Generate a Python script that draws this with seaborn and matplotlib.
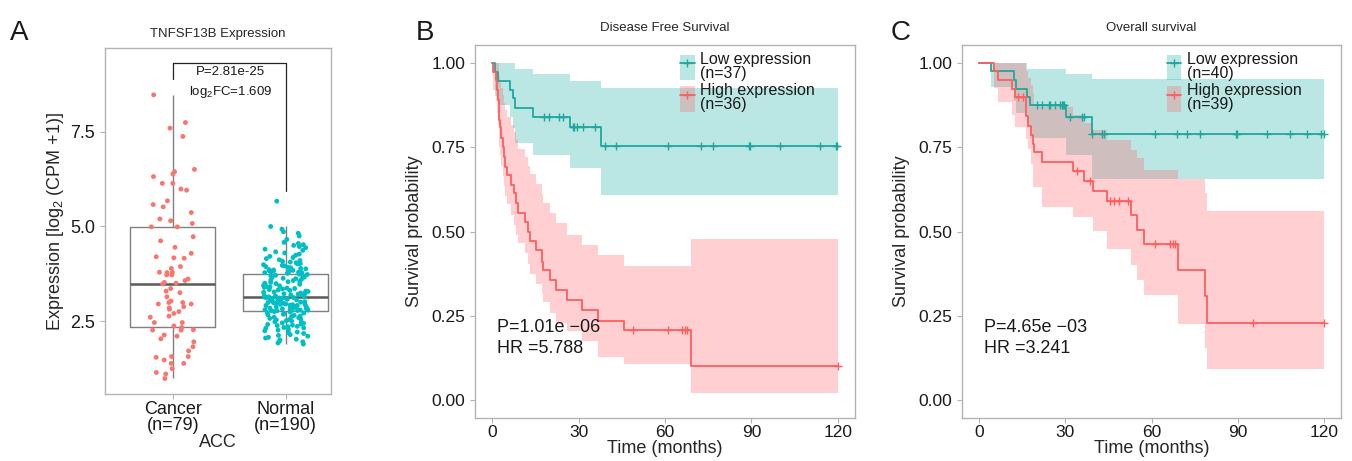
import numpy as np
import pandas as pd
import matplotlib
matplotlib.use("Agg")
import matplotlib.pyplot as plt
import seaborn as sns
from matplotlib.patches import Patch
from matplotlib.lines import Line2D

# Panel A: expression values
groups = ["Cancer", "Normal"]
group_labels = ["Cancer\n(n=79)", "Normal\n(n=190)"]
cancer_expr = [
    8.48, 7.75, 7.60, 7.38, 6.51, 6.45, 6.39, 6.32, 6.14, 6.14,
    5.99, 5.96, 5.68, 5.58, 5.52, 5.37, 5.20, 5.15, 5.08, 4.99,
    4.99, 4.73, 4.62, 4.45, 4.29, 4.20, 4.17, 4.16, 3.94, 3.89,
    3.79, 3.79, 3.78, 3.72, 3.72, 3.61, 3.57, 3.52, 3.50, 3.48,
    3.36, 3.29, 3.25, 3.14, 3.03, 2.99, 2.99, 2.95, 2.95, 2.88,
    2.85, 2.81, 2.75, 2.70, 2.63, 2.60, 2.46, 2.46, 2.37, 2.33,
    2.27, 2.26, 2.26, 2.13, 2.10, 2.03, 1.95, 1.82, 1.71, 1.56,
    1.56, 1.54, 1.47, 1.38, 1.38, 1.24, 1.14, 1.10, 0.98,
]
normal_expr = [
    5.67,
    5.00, 4.93, 4.86, 4.82, 4.75, 4.66, 4.58, 4.55, 4.52, 4.50,
    4.47, 4.44, 4.40, 4.37, 4.33, 4.30, 4.27, 4.24, 4.21, 4.18,
    4.15, 4.12, 4.10, 4.08, 4.06, 4.04, 4.02, 4.01,
    3.99, 3.97, 3.96, 3.94, 3.92, 3.91, 3.89, 3.88, 3.86, 3.85,
    3.84, 3.83, 3.82, 3.81, 3.80, 3.79, 3.78, 3.78,
    3.76, 3.74, 3.73, 3.71, 3.70, 3.68, 3.66, 3.65, 3.63, 3.62,
    3.60, 3.58, 3.57, 3.55, 3.54, 3.52, 3.50, 3.49, 3.47, 3.46,
    3.44, 3.43, 3.41, 3.40, 3.39, 3.37, 3.36, 3.35, 3.33, 3.32,
    3.31, 3.29, 3.28, 3.27, 3.26, 3.24, 3.23, 3.22, 3.21, 3.20,
    3.19, 3.18, 3.17, 3.16, 3.15, 3.14, 3.14,
    3.13, 3.12, 3.12, 3.11, 3.10, 3.09, 3.08, 3.08, 3.07, 3.06,
    3.05, 3.04, 3.04, 3.03, 3.02, 3.01, 3.00, 2.99, 2.99, 2.98,
    2.97, 2.96, 2.95, 2.95, 2.94, 2.93, 2.92, 2.91, 2.91, 2.90,
    2.89, 2.88, 2.87, 2.87, 2.86, 2.85, 2.84, 2.83, 2.83, 2.82,
    2.81, 2.80, 2.79, 2.79, 2.78, 2.78, 2.77, 2.77,
    2.75, 2.74, 2.72, 2.71, 2.69, 2.68, 2.66, 2.65, 2.63, 2.62,
    2.60, 2.59, 2.57, 2.56, 2.54, 2.53, 2.51, 2.50, 2.48, 2.47,
    2.45, 2.44, 2.42, 2.41, 2.39, 2.38, 2.36, 2.35, 2.33, 2.32, 2.31,
    2.28, 2.26, 2.24, 2.21, 2.19, 2.17, 2.14, 2.12, 2.10, 2.07,
    2.05, 2.02, 2.00, 1.97, 1.95, 1.92, 1.89,
]

# Panel B: disease free survival (step curves, 95% CI, censor times)
dfs_low_time = [0, 1.0, 2.0, 6.0, 7.3, 7.8, 14.3, 27.1, 37.6, 120.0]
dfs_low_surv = [1.0, 0.973, 0.946, 0.920, 0.894, 0.865, 0.838, 0.808, 0.754, 0.754]
dfs_low_upper = [1.0, 1.0, 1.0, 1.0, 1.0, 0.980, 0.965, 0.945, 0.926, 0.926]
dfs_low_lower = [1.0, 0.90, 0.874, 0.84, 0.805, 0.761, 0.726, 0.687, 0.608, 0.608]
dfs_low_cens = [17.8, 19.8, 23.3, 24.4, 27.9, 28.5, 29.6, 31.4, 35.7, 39.1, 43.1,
                60.9, 72.4, 76.8, 89.1, 89.6, 99.9, 113.8, 119.3, 119.9]

dfs_high_time = [0, 0.3, 1.2, 1.5, 1.9, 2.2, 2.4, 2.8, 3.0, 3.6, 4.2, 4.5, 5.0, 6.5, 7.4,
                 8.2, 9.1, 11.5, 12.3, 13.2, 15.2, 17.3, 17.6, 20.1, 22.0, 26.0, 31.3,
                 36.7, 45.7, 68.9, 120.0]
dfs_high_surv = [1.0, 0.972, 0.948, 0.918, 0.889, 0.859, 0.830, 0.808, 0.778, 0.751, 0.721,
                 0.692, 0.667, 0.638, 0.613, 0.584, 0.556, 0.529, 0.500, 0.473, 0.444,
                 0.411, 0.385, 0.355, 0.326, 0.296, 0.267, 0.236, 0.207, 0.103, 0.103]
dfs_high_upper = [1.0, 1.0, 1.0, 1.0, 1.0, 0.985, 0.96, 0.945, 0.925, 0.905, 0.88, 0.86,
                  0.84, 0.815, 0.795, 0.77, 0.745, 0.72, 0.695, 0.67, 0.64, 0.61, 0.585,
                  0.555, 0.525, 0.49, 0.461, 0.431, 0.399, 0.477, 0.477]
dfs_high_lower = [1.0, 0.92, 0.885, 0.85, 0.815, 0.78, 0.75, 0.725, 0.695, 0.665, 0.635,
                  0.605, 0.58, 0.55, 0.52, 0.49, 0.465, 0.435, 0.405, 0.375, 0.345, 0.315,
                  0.29, 0.26, 0.23, 0.205, 0.175, 0.129, 0.108, 0.023, 0.023]
dfs_high_cens = [48.9, 61.2, 65.8, 67.0, 67.8, 120.0]

# Panel C: overall survival
os_low_time = [0, 4.2, 12.0, 12.8, 16.6, 17.8, 30.2, 39.3, 120.0]
os_low_surv = [1.0, 0.975, 0.949, 0.923, 0.897, 0.874, 0.839, 0.788, 0.788]
os_low_upper = [1.0, 1.0, 1.0, 1.0, 0.982, 0.982, 0.967, 0.950, 0.950]
os_low_lower = [1.0, 0.928, 0.885, 0.85, 0.81, 0.776, 0.726, 0.655, 0.655]
os_low_cens = [20.1, 21.9, 24.2, 24.8, 26.5, 28.3, 28.8, 29.2, 29.6, 31.7, 35.8, 36.4,
               39.3, 42.8, 43.6, 61.1, 68.9, 72.4, 76.8, 89.3, 89.9, 100.1, 108.2,
               114.3, 119.2, 120.1]

os_high_time = [0, 5.0, 6.7, 11.4, 12.3, 16.2, 16.9, 18.0, 18.6, 19.0, 21.9, 32.7, 36.4,
                39.5, 44.5, 52.9, 55.0, 57.3, 69.3, 78.5, 79.2, 120.0]
os_high_surv = [1.0, 0.974, 0.949, 0.923, 0.897, 0.841, 0.812, 0.785, 0.760, 0.734, 0.707,
                0.679, 0.650, 0.620, 0.589, 0.549, 0.505, 0.463, 0.387, 0.308, 0.229, 0.229]
os_high_upper = [1.0, 1.0, 1.0, 1.0, 1.0, 0.975, 0.955, 0.935, 0.91, 0.869, 0.869, 0.844,
                 0.82, 0.80, 0.771, 0.741, 0.717, 0.682, 0.655, 0.613, 0.562, 0.562]
os_high_lower = [1.0, 0.925, 0.884, 0.846, 0.810, 0.775, 0.745, 0.70, 0.633, 0.633, 0.573,
                 0.542, 0.542, 0.50, 0.449, 0.401, 0.357, 0.313, 0.226, 0.154, 0.094, 0.094]
os_high_cens = [13.5, 15.3, 34.0, 38.5, 45.6, 46.8, 48.7, 51.9, 61.1, 66.4, 67.4, 68.2,
                95.2, 120.0]

# colours
red_pt, teal_pt = "#F8766D", "#00BFC4"
red_line, teal_line = "#FF5E5E", "#1FA79E"
red_band, teal_band = "#FF6269", "#1CB2A5"
spine_c = "#B3B3B3"
text_c = "#1A1A1A"

sns.set_style("ticks")
plt.rcParams["font.family"] = ["Liberation Sans", "DejaVu Sans"]
plt.rcParams["mathtext.fontset"] = "custom"
plt.rcParams["mathtext.rm"] = "Liberation Sans"
plt.rcParams["mathtext.default"] = "regular"
np.random.seed(7)

fig = plt.figure(figsize=(13.52, 4.61), dpi=100)


def style_axes(ax):
    for sp in ax.spines.values():
        sp.set_visible(True)
        sp.set_color(spine_c)
        sp.set_linewidth(1.0)
    ax.tick_params(colors=spine_c, length=3.5, width=0.8, labelcolor=text_c)
    ax.tick_params(axis="x", pad=1.5)


# ---------------- Panel A
axA = fig.add_axes([105 / 1352, 1 - 394 / 461, 226 / 1352, 346 / 461])
df_expr = pd.DataFrame({
    "group": ["Cancer"] * len(cancer_expr) + ["Normal"] * len(normal_expr),
    "value": cancer_expr + normal_expr,
})
sns.boxplot(data=df_expr, x="group", y="value", order=groups, width=0.75, fill=False,
            color="#808080", linewidth=1.0, showfliers=False, showcaps=False,
            medianprops={"linewidth": 1.8, "color": "#595959"}, ax=axA)
sns.stripplot(data=df_expr, x="group", y="value", hue="group", order=groups,
              palette={"Cancer": red_pt, "Normal": teal_pt}, jitter=0.2, size=3.5,
              linewidth=0, legend=False, ax=axA)
axA.set_xlim(-0.6, 1.4)
axA.set_ylim(0.57, 9.72)
axA.set_yticks([2.5, 5.0, 7.5])
axA.set_yticklabels(["2.5", "5.0", "7.5"], fontsize=13)
axA.set_xticks([0, 1])
axA.set_xticklabels(group_labels, fontsize=13, linespacing=0.9)
axA.set_xlabel("ACC", fontsize=13, labelpad=0)
axA.set_ylabel("Expression [log$_2$ (CPM +1)]", fontsize=13, labelpad=3)
axA.set_title("TNFSF13B Expression", fontsize=9.5, pad=8)
style_axes(axA)

# significance bracket
axA.plot([0, 0, 1, 1], [8.9, 9.33, 9.33, 5.94], color="#222222", lw=0.9)
axA.text(0.51, 9.09, "P=2.81e-25", ha="center", va="center", fontsize=9.5, color=text_c)
axA.text(0.51, 8.56, "log$_2$FC=1.609", ha="center", va="center", fontsize=9.5, color=text_c)


# ---------------- KM panels
def draw_km(ax, t, s, lo, hi, cens, line_c, band_c):
    t = np.asarray(t)
    s = np.asarray(s)
    ax.fill_between(t, lo, hi, step="post", color=band_c, alpha=0.3, linewidth=0)
    sns.lineplot(x=t, y=s, drawstyle="steps-post", color=line_c, linewidth=1.3,
                 estimator=None, ax=ax)
    idx = np.searchsorted(t, cens, side="right") - 1
    ax.plot(cens, s[idx], ls="none", marker="+", ms=6, mew=1.0, color=line_c)


def km_panel(rect, low, high, n_low, n_high, title, ptxt, hrtxt):
    ax = fig.add_axes(rect)
    draw_km(ax, *low, teal_line, teal_band)
    draw_km(ax, *high, red_line, red_band)
    ax.set_xlim(-6, 126)
    ax.set_ylim(-0.052, 1.052)
    ax.set_xticks([0, 30, 60, 90, 120])
    ax.set_xticklabels(["0", "30", "60", "90", "120"], fontsize=12.5)
    ax.set_yticks([0, 0.25, 0.5, 0.75, 1.0])
    ax.set_yticklabels(["0.00", "0.25", "0.50", "0.75", "1.00"], fontsize=12.5)
    ax.set_xlabel("Time (months)", fontsize=13, labelpad=0)
    ax.set_ylabel("Survival probability", fontsize=13, labelpad=6)
    ax.set_title(title, fontsize=9.5, pad=10)
    style_axes(ax)
    ax.text(1.8, 0.215, ptxt, ha="left", va="center", fontsize=13, color=text_c)
    ax.text(1.8, 0.153, hrtxt, ha="left", va="center", fontsize=13, color=text_c)
    handles = [
        (Patch(facecolor=teal_band, alpha=0.3, edgecolor="none"),
         Line2D([], [], color=teal_line, lw=1.3, marker="+", ms=6)),
        (Patch(facecolor=red_band, alpha=0.3, edgecolor="none"),
         Line2D([], [], color=red_line, lw=1.3, marker="+", ms=6)),
    ]
    labels = [f"Low expression\n(n={n_low})", f"High expression\n(n={n_high})"]
    leg = ax.legend(handles, labels, loc="upper left", bbox_to_anchor=(0.54, 0.982),
                    frameon=False, fontsize=11.5, handlelength=0.9, handleheight=2.1,
                    handletextpad=0.35, labelspacing=0.12, borderpad=0, borderaxespad=0)
    for txt in leg.get_texts():
        txt.set_linespacing(0.95)
        txt.set_color(text_c)
    return ax


km_panel([475 / 1352, 1 - 418 / 461, 380 / 1352, 373 / 461],
         (dfs_low_time, dfs_low_surv, dfs_low_lower, dfs_low_upper, dfs_low_cens),
         (dfs_high_time, dfs_high_surv, dfs_high_lower, dfs_high_upper, dfs_high_cens),
         37, 36, "Disease Free Survival", "P=1.01e \u221206", "HR =5.788")
km_panel([962 / 1352, 1 - 418 / 461, 379 / 1352, 373 / 461],
         (os_low_time, os_low_surv, os_low_lower, os_low_upper, os_low_cens),
         (os_high_time, os_high_surv, os_high_lower, os_high_upper, os_high_cens),
         40, 39, "Overall survival", "P=4.65e \u221203", "HR =3.241")

# panel letters
for x, letter in [(10, "A"), (416, "B"), (891, "C")]:
    fig.text(x / 1352, 1 - 40 / 461, letter, fontsize=20, color=text_c, va="baseline")

fig.savefig("out.png", dpi=100)
